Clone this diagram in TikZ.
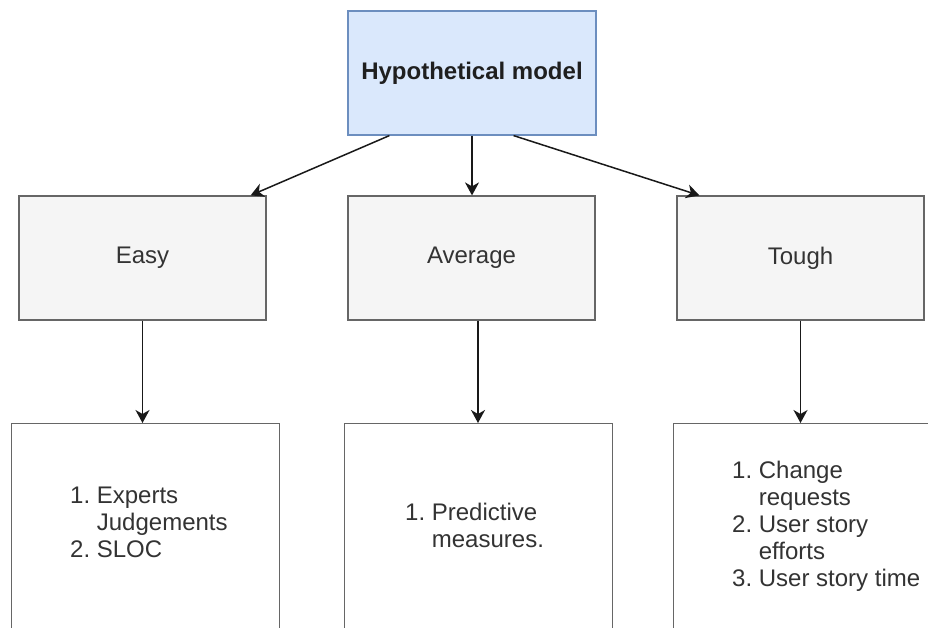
\documentclass[tikz,border=0pt]{standalone}
\usepackage{fontspec}
\setmainfont{Liberation Sans}
\usetikzlibrary{arrows.meta,calc}
\definecolor{topfill}{HTML}{DAE8FC}
\definecolor{topdraw}{HTML}{6C8EBF}
\definecolor{midfill}{HTML}{F5F5F5}
\definecolor{middraw}{HTML}{666666}
\definecolor{txt}{HTML}{333333}
\begin{document}
\begin{tikzpicture}[x=1pt,y=-1pt,
  topbox/.style={draw=topdraw, fill=topfill, line width=1.2pt, minimum width=248pt, minimum height=124pt, inner sep=0pt, font=\fontsize{24}{28}\selectfont\bfseries, text=black!88},
  midbox/.style={draw=middraw, fill=midfill, line width=1.2pt, minimum width=247pt, minimum height=124pt, inner sep=0pt, font=\fontsize{24}{28}\selectfont, text=txt},
  lowbox/.style={draw=middraw, fill=white, line width=1.2pt, anchor=north west, inner sep=0pt},
  listtext/.style={anchor=north west, inner sep=0pt, font=\fontsize{24}{27}\selectfont, text=txt, align=left},
  conn/.style={line width=1.5pt, draw=black!90, -{Stealth[length=13pt,width=14pt,inset=4pt]}}]
\path[use as bounding box, clip] (0,0) rectangle (928,628);
\fill[white] (0,0) rectangle (928,628);
\node[topbox] (top) at (472,73) {Hypothetical model};
\node[midbox] (easy) at (142.5,258) {Easy};
\node[midbox] (avg) at (471.5,258) {Average};
\node[midbox] (tough) at (800.5,258) {Tough};
\node[lowbox, minimum width=268pt, minimum height=260pt] (leasy) at (11,423) {};
\node[lowbox, minimum width=268pt, minimum height=260pt] (lavg) at (344,423) {};
\node[lowbox, minimum width=268pt, minimum height=260pt] (ltough) at (673,423) {};
\node[listtext] (teasy) at (70,484) {\begin{tabular}{@{}l@{\ }l@{}}1.&Experts\\&Judgements\\2.&SLOC\end{tabular}};
\node[listtext] (tavg) at (405,501) {\begin{tabular}{@{}l@{\ }l@{}}1.&Predictive\\&measures.\end{tabular}};
\node[listtext] (ttough) at (732,459) {\begin{tabular}{@{}l@{\ }l@{}}1.&Change\\&requests\\2.&User story\\&efforts\\3.&User story time\end{tabular}};
\draw[conn] ([xshift=42pt]top.south west) -- ([xshift=-16pt]easy.north east);
\draw[conn] (top.south) -- (top.south |- avg.north);
\draw[conn] ([xshift=-83pt]top.south east) -- ([xshift=23pt]tough.north west);
\draw[conn] (easy.south) -- (easy.south |- leasy.north);
\draw[conn] ([xshift=6.5pt]avg.south) -- ([xshift=6.5pt]avg.south |- lavg.north);
\draw[conn] (tough.south) -- (tough.south |- ltough.north);
\end{tikzpicture}
\end{document}
